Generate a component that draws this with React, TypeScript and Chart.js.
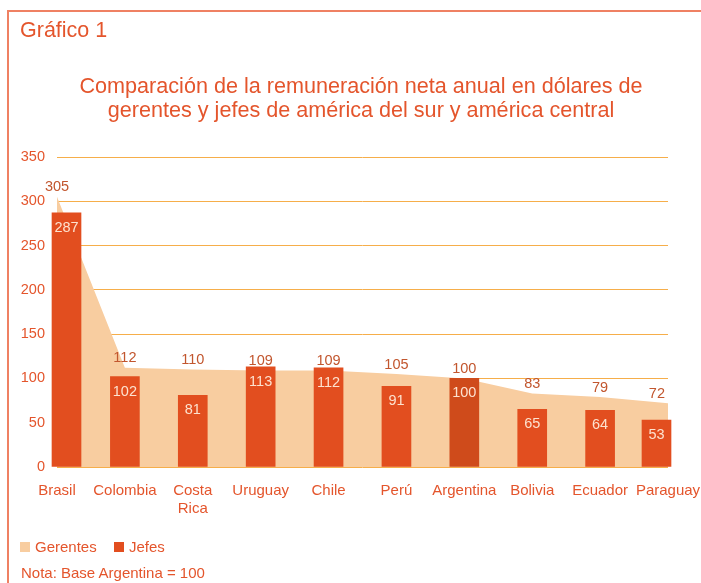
import React, { useEffect, useRef } from "react";
import { Chart, registerables } from "chart.js";

Chart.register(...registerables);

const categories: (string | string[])[] = [
  "Brasil",
  "Colombia",
  ["Costa", "Rica"],
  "Uruguay",
  "Chile",
  "Perú",
  "Argentina",
  "Bolivia",
  "Ecuador",
  "Paraguay",
];
const gerentes = [305, 112, 110, 109, 109, 105, 100, 83, 79, 72];
const jefes = [287, 102, 81, 113, 112, 91, 100, 65, 64, 53];
const highlighted = "Argentina";
const yMin = 0;
const yMax = 350;
const yStep = 50;
const titleLines = [
  "Comparación de la remuneración neta anual en dólares de",
  "gerentes y jefes de américa del sur y américa central",
];

const FONT = "'Liberation Sans', Arial, sans-serif";
const TEXT = "#e4552c";
const AREA = "#f8cda0";
const BAR = "#e24e1f";
const BAR_DARK = "#cf4b1b";
const GRID = "#f6ae4a";
const LABEL_G = "#c2562e";
const LABEL_J = "#fde2cf";

const clampBars = {
  id: "clampBars",
  afterDatasetsUpdate(chart: any) {
    const a = chart.chartArea;
    const meta = chart.getDatasetMeta(1);
    meta.data.forEach((el: any) => {
      const half = el.width / 2;
      el.x = Math.min(Math.max(el.x, a.left - 5 + half), a.right + 3 - half);
    });
  },
};

const valueLabels = {
  id: "valueLabels",
  afterDatasetsDraw(chart: any) {
    const ctx = chart.ctx;
    const a = chart.chartArea;
    ctx.save();
    ctx.font = `14.5px ${FONT}`;
    ctx.textAlign = "center";
    ctx.textBaseline = "middle";
    const m0 = chart.getDatasetMeta(0);
    ctx.fillStyle = LABEL_G;
    m0.data.forEach((el: any, i: number) => {
      const t = String(gerentes[i]);
      const w = ctx.measureText(t).width;
      const x = Math.min(el.x, a.right - w / 2 - 3);
      ctx.fillText(t, x, el.y - 9.5);
    });
    const m1 = chart.getDatasetMeta(1);
    ctx.fillStyle = LABEL_J;
    m1.data.forEach((el: any, i: number) => {
      ctx.fillText(String(jefes[i]), el.x, el.y + 15);
    });
    ctx.restore();
  },
};

export default function App() {
  const ref = useRef<HTMLCanvasElement | null>(null);

  useEffect(() => {
    if (!ref.current) return;
    const chart = new Chart(ref.current, {
      type: "bar",
      data: {
        labels: categories as any,
        datasets: [
          {
            type: "line",
            label: "Gerentes",
            data: gerentes,
            backgroundColor: AREA,
            borderWidth: 0,
            borderColor: AREA,
            fill: "origin",
            pointRadius: 0,
            tension: 0,
            order: 2,
          } as any,
          {
            type: "bar",
            label: "Jefes",
            data: jefes,
            backgroundColor: (c: any) =>
              categories[c.dataIndex] === highlighted ? BAR_DARK : BAR,
            barThickness: 29,
            clip: false,
            order: 1,
          } as any,
        ],
      },
      options: {
        responsive: false,
        animation: false,
        layout: { padding: { left: 10, right: 33, top: 157, bottom: 50 } },
        plugins: {
          legend: { display: false },
          tooltip: { enabled: false },
          title: { display: false },
        },
        scales: {
          x: {
            offset: false,
            afterFit: (s: any) => {
              s.paddingRight = 0;
              s.paddingLeft = 0;
            },
            grid: { display: false, drawTicks: false },
            border: { display: false },
            ticks: {
              color: TEXT,
              font: { family: FONT, size: 15, lineHeight: 1.2 },
              padding: 15,
              maxRotation: 0,
              autoSkip: false,
            },
          },
          y: {
            min: yMin,
            max: yMax,
            afterFit: (s: any) => {
              s.width = 47;
            },
            grid: { color: GRID, drawTicks: false, lineWidth: 1 },
            border: { display: false },
            ticks: {
              stepSize: yStep,
              color: TEXT,
              font: { family: FONT, size: 14.5 },
              padding: 12,
            },
          },
        },
      },
      plugins: [clampBars, valueLabels],
    });
    return () => chart.destroy();
  }, []);

  const txt: React.CSSProperties = {
    position: "absolute",
    fontFamily: FONT,
    color: TEXT,
    whiteSpace: "nowrap",
  };

  return (
    <div
      style={{
        position: "absolute",
        left: 0,
        top: 0,
        width: 701,
        height: 583,
        overflow: "hidden",
        background: "#ffffff",
      }}
    >
      <div
        style={{
          position: "absolute",
          left: 7,
          top: 10,
          width: 700,
          height: 580,
          borderLeft: "2px solid #ef8163",
          borderTop: "2px solid #ef8163",
        }}
      />
      <canvas
        ref={ref}
        width={701}
        height={583}
        style={{ position: "absolute", left: 0, top: 0 }}
      />
      <div style={{ ...txt, left: 20, top: 18, fontSize: 21.5, lineHeight: "24px" }}>
        Gráfico 1
      </div>
      <div
        style={{
          ...txt,
          left: 0,
          top: 74,
          width: 722,
          textAlign: "center",
          fontSize: 21.6,
          lineHeight: "24px",
        }}
      >
        {titleLines.map((l) => (
          <div key={l}>{l}</div>
        ))}
      </div>
      <div style={{ position: "absolute", left: 20, top: 542, width: 10, height: 10, background: AREA }} />
      <div style={{ ...txt, left: 35, top: 538, fontSize: 15, lineHeight: "18px" }}>Gerentes</div>
      <div style={{ position: "absolute", left: 114, top: 542, width: 10, height: 10, background: BAR }} />
      <div style={{ ...txt, left: 129, top: 538, fontSize: 15, lineHeight: "18px" }}>Jefes</div>
      <div style={{ ...txt, left: 21, top: 564, fontSize: 15, lineHeight: "18px" }}>
        Nota: Base Argentina = 100
      </div>
    </div>
  );
}
